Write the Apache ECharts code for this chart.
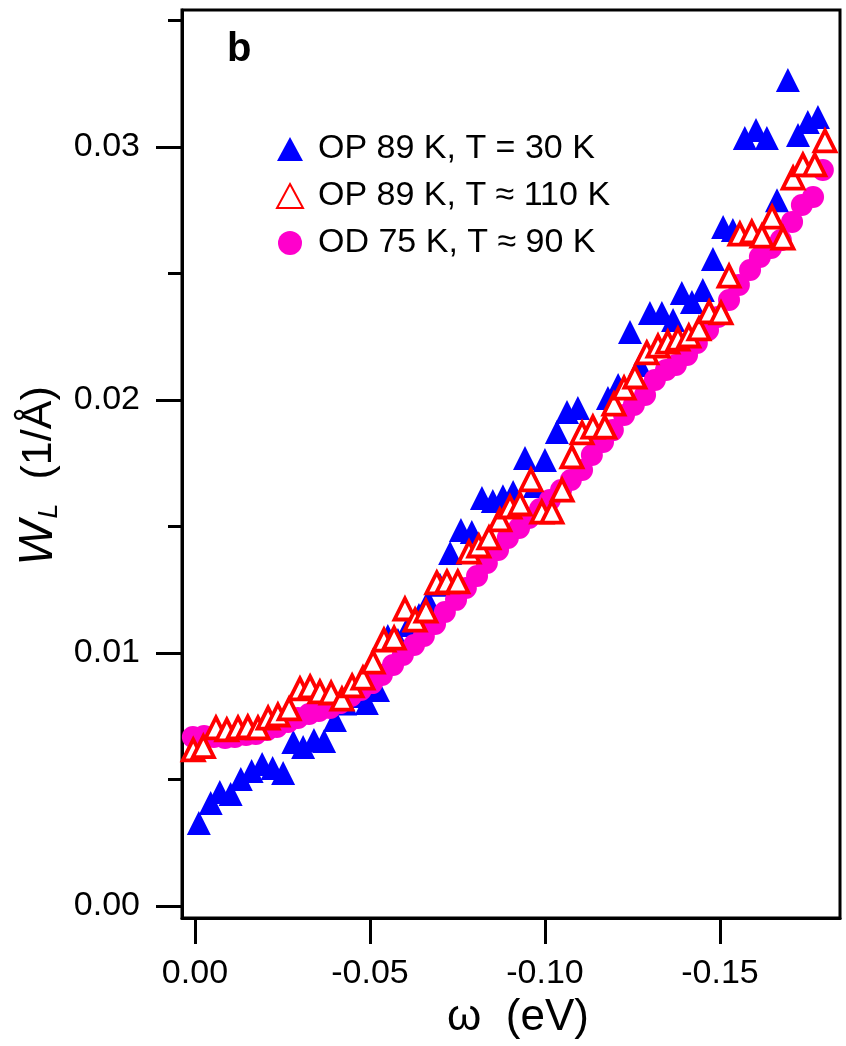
<!DOCTYPE html>
<html>
<head>
<meta charset="utf-8">
<script src="https://cdn.jsdelivr.net/npm/echarts@6/dist/echarts.min.js"></script>
<style>
  html, body { margin: 0; padding: 0; background: #fff; }
  #chart { width: 846px; height: 1046px; }
</style>
</head>
<body>
<div id="chart"></div>
<script>
// Binding energy ω (eV) and momentum width W_L (1/Å) for three samples.
const omegaOP30 = [-0.0011,-0.0045,-0.0071,-0.0102,-0.0131,-0.0162,-0.0192,-0.0222,-0.0252,-0.0281,
  -0.0309,-0.0340,-0.0369,-0.0400,-0.0429,-0.0460,-0.0491,-0.0523,-0.0551,-0.0580,
  -0.0611,-0.0640,-0.0666,-0.0700,-0.0729,-0.0760,-0.0791,-0.0820,-0.0851,-0.0880,
  -0.0909,-0.0943,-0.0971,-0.1000,-0.1034,-0.1063,-0.1094,-0.1180,-0.1209,-0.1243,
  -0.1271,-0.1300,-0.1334,-0.1366,-0.1391,-0.1420,-0.1451,-0.1480,-0.1509,-0.1537,
  -0.1571,-0.1603,-0.1634,-0.1663,-0.1694,-0.1723,-0.1751,-0.1780];
const widthOP30 = [0.00328,0.00407,0.00451,0.00443,0.00502,0.00534,0.00561,0.00545,0.00526,0.00648,
  0.00628,0.00656,0.00652,0.00735,0.00800,0.00830,0.00802,0.00854,0.01067,0.01051,
  0.01111,0.01150,0.01206,0.01270,0.01395,0.01486,0.01478,0.01613,0.01601,0.01620,
  0.01636,0.01771,0.01660,0.01763,0.01874,0.01953,0.01968,0.02008,0.02059,0.02269,
  0.02138,0.02344,0.02344,0.02316,0.02423,0.02387,0.02435,0.02557,0.02684,0.02672,
  0.03036,0.03067,0.03036,0.02790,0.03265,0.03047,0.03099,0.03119];

const omegaOP110 = [0.0005,-0.0024,-0.0060,-0.0091,-0.0123,-0.0151,-0.0180,-0.0209,-0.0237,-0.0269,
  -0.0300,-0.0329,-0.0357,-0.0389,-0.0420,-0.0449,-0.0480,-0.0509,-0.0540,-0.0569,
  -0.0600,-0.0629,-0.0660,-0.0691,-0.0720,-0.0751,-0.0783,-0.0811,-0.0840,-0.0871,
  -0.0900,-0.0929,-0.0960,-0.0991,-0.1020,-0.1049,-0.1077,-0.1106,-0.1137,-0.1171,
  -0.1197,-0.1226,-0.1257,-0.1291,-0.1323,-0.1351,-0.1380,-0.1411,-0.1440,-0.1469,
  -0.1503,-0.1526,-0.1557,-0.1591,-0.1620,-0.1649,-0.1680,-0.1709,-0.1737,-0.1771,-0.1800];
const widthOP110 = [0.00617,0.00630,0.00704,0.00696,0.00704,0.00708,0.00704,0.00743,0.00755,0.00779,
  0.00858,0.00866,0.00846,0.00842,0.00818,0.00870,0.00901,0.00964,0.01051,0.01059,
  0.01174,0.01130,0.01166,0.01277,0.01281,0.01281,0.01399,0.01423,0.01455,0.01526,
  0.01577,0.01589,0.01684,0.01557,0.01557,0.01644,0.01775,0.01870,0.01893,0.01893,
  0.01984,0.02047,0.02091,0.02186,0.02213,0.02229,0.02241,0.02253,0.02281,0.02348,
  0.02344,0.02490,0.02656,0.02664,0.02648,0.02723,0.02640,0.02877,0.02929,0.02929,0.03024];

const omegaOD90 = [0.0006,-0.0026,-0.0054,-0.0086,-0.0114,-0.0146,-0.0174,-0.0206,-0.0234,-0.0266,
  -0.0294,-0.0326,-0.0354,-0.0386,-0.0414,-0.0446,-0.0474,-0.0506,-0.0534,-0.0566,
  -0.0594,-0.0626,-0.0654,-0.0686,-0.0714,-0.0746,-0.0774,-0.0806,-0.0834,-0.0866,
  -0.0894,-0.0926,-0.0954,-0.0986,-0.1014,-0.1046,-0.1074,-0.1106,-0.1134,-0.1166,
  -0.1194,-0.1226,-0.1254,-0.1286,-0.1314,-0.1346,-0.1374,-0.1406,-0.1434,-0.1466,
  -0.1494,-0.1526,-0.1554,-0.1586,-0.1614,-0.1646,-0.1674,-0.1706,-0.1734,-0.1766,-0.1794];
const widthOD90 = [0.00668,0.00672,0.00668,0.00664,0.00668,0.00676,0.00680,0.00696,0.00708,0.00727,
  0.00743,0.00759,0.00771,0.00783,0.00802,0.00830,0.00854,0.00881,0.00913,0.00953,
  0.00992,0.01032,0.01067,0.01115,0.01162,0.01210,0.01257,0.01304,0.01356,0.01407,
  0.01455,0.01494,0.01534,0.01569,0.01605,0.01644,0.01684,0.01723,0.01783,0.01834,
  0.01881,0.01941,0.01980,0.02020,0.02079,0.02119,0.02138,0.02178,0.02225,0.02277,
  0.02328,0.02395,0.02455,0.02514,0.02565,0.02601,0.02632,0.02704,0.02771,0.02802,0.02909];

const seriesNames = ['OP 89 K, T = 30 K', 'OP 89 K, T \u2248 110 K', 'OD 75 K, T \u2248 90 K'];
const xTicks = [0, -0.05, -0.10, -0.15];
const yTicks = [0, 0.01, 0.02, 0.03];
const yMinorTicks = [0.005, 0.015, 0.025, 0.035];

const pairs = (xs, ys) => xs.map((x, i) => [x, ys[i]]);
const FONT = '"Liberation Sans", Arial, Helvetica, sans-serif';

const chart = echarts.init(document.getElementById('chart'), null, { renderer: 'canvas' });

chart.setOption({
  backgroundColor: '#fff',
  animation: false,
  textStyle: { fontFamily: FONT, color: '#000' },
  grid: {
    left: 182, top: 10, right: 6, bottom: 128,
    show: true, borderColor: '#000', borderWidth: 3, backgroundColor: 'transparent'
  },
  graphic: [{
    type: 'text', left: 227, top: 30,
    style: { text: 'b', font: 'bold 40px ' + FONT, fill: '#000' }
  }],
  legend: {
    orient: 'vertical', left: 271, top: 127,
    itemWidth: 26, itemHeight: 24, itemGap: 13,
    data: [seriesNames[0], seriesNames[1], seriesNames[2]],
    textStyle: { fontSize: 34, color: '#000', fontFamily: FONT, padding: [0, 0, 0, 10] }
  },
  xAxis: {
    type: 'value', inverse: true, min: -0.1843, max: 0.0037,
    name: '\u03c9  (eV)', nameLocation: 'middle', nameGap: 78,
    nameTextStyle: { fontSize: 44, color: '#000', fontFamily: FONT, padding: [0, 0, 0, 14] },
    axisLine: { onZero: false, lineStyle: { color: '#000', width: 3 } },
    axisTick: { show: true, inside: false, length: 26, customValues: xTicks, lineStyle: { color: '#000', width: 3 } },
    axisLabel: { customValues: xTicks, margin: 39, fontSize: 34, color: '#000', fontFamily: FONT,
      formatter: v => v.toFixed(2) },
    splitLine: { show: false }
  },
  yAxis: [{
    type: 'value', min: -0.000474, max: 0.035415, position: 'left', offset: 0,
    name: '{it|W}{sub|L}{n|  (1/\u00c5)}', nameLocation: 'middle', nameGap: 114,
    nameTextStyle: {
      fontSize: 44, color: '#000', fontFamily: FONT, padding: [0, 24, 0, 0],
      rich: {
        it: { fontSize: 48, fontStyle: 'italic', fontFamily: FONT, color: '#000' },
        sub: { fontSize: 27, fontStyle: 'italic', fontFamily: FONT, color: '#000', verticalAlign: 'bottom', padding: [16, 0, 0, 2] },
        n: { fontSize: 43, fontFamily: FONT, color: '#000' }
      }
    },
    axisLine: { show: true, onZero: false, lineStyle: { color: '#000', width: 3 } },
    axisTick: { show: true, inside: false, length: 26, customValues: yTicks, lineStyle: { color: '#000', width: 3 } },
    axisLabel: { customValues: yTicks, margin: 42, fontSize: 34, color: '#000', fontFamily: FONT,
      formatter: v => v.toFixed(2) },
    splitLine: { show: false }
  }, {
    type: 'value', min: -0.000474, max: 0.035415, position: 'left', offset: 0,
    axisLine: { show: false, onZero: false },
    axisTick: { show: true, inside: false, length: 14, customValues: yMinorTicks, lineStyle: { color: '#000', width: 3 } },
    axisLabel: { show: false },
    splitLine: { show: false }
  }],
  series: [{
    name: seriesNames[0], type: 'scatter', z: 2,
    symbol: 'triangle', symbolSize: 24,
    itemStyle: { color: '#0000ff', opacity: 1 },
    data: pairs(omegaOP30, widthOP30)
  }, {
    name: seriesNames[2], type: 'scatter', z: 3,
    symbol: 'circle', symbolSize: 22,
    itemStyle: { color: '#ff00cc', opacity: 1 },
    data: pairs(omegaOD90, widthOD90)
  }, {
    name: seriesNames[1], type: 'scatter', z: 4,
    symbol: 'triangle', symbolSize: 21,
    itemStyle: { color: '#ffffff', borderColor: '#ff0000', borderWidth: 3.8, opacity: 1 },
    data: pairs(omegaOP110, widthOP110)
  }]
});
</script>
</body>
</html>
